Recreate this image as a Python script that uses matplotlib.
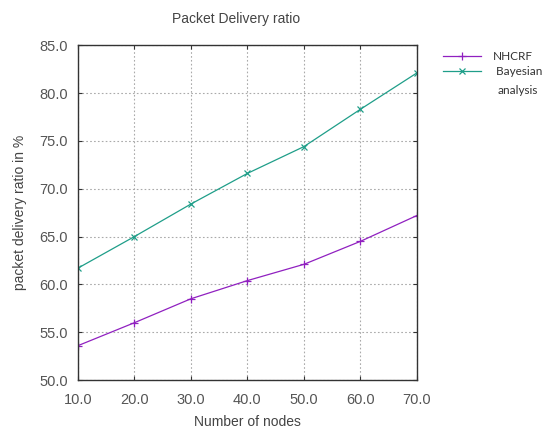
import matplotlib
matplotlib.use("Agg")
import matplotlib.pyplot as plt

nodes = [10, 20, 30, 40, 50, 60, 70]
nhcrf = [53.6, 56.0, 58.5, 60.4, 62.1, 64.5, 67.2]
bayesian = [61.7, 65.0, 68.4, 71.6, 74.4, 78.3, 82.1]
x_ticks = [10, 20, 30, 40, 50, 60, 70]
y_ticks = [50, 55, 60, 65, 70, 75, 80, 85]

plt.rcParams["font.family"] = ["Liberation Sans", "DejaVu Sans"]

fig = plt.figure(figsize=(5.45, 4.3), dpi=100)
ax = fig.add_axes([0.143, 0.116, 0.622, 0.779])

ax.plot(nodes, nhcrf, color="#9020c0", lw=0.9, marker="+", ms=6, mew=0.9, label="NHCRF")
ax.plot(nodes, bayesian, color="#1f9e89", lw=0.9, marker="x", ms=5, mew=0.9, label=" Bayesian")

ax.set_xlim(10, 70)
ax.set_ylim(50, 85)
ax.set_xticks(x_ticks)
ax.set_yticks(y_ticks)
ax.set_xticklabels([f"{v:.1f}" for v in x_ticks])
ax.set_yticklabels([f"{v:.1f}" for v in y_ticks])
ax.tick_params(direction="in", length=3, width=0.8, color="#333333", labelsize=10.5,
               labelcolor="#555555", top=True, right=True)
ax.tick_params(axis="x", pad=9)
ax.tick_params(axis="y", pad=7)
ax.grid(True, color="#aaaaaa", linestyle=(0, (1.5, 2)), lw=0.8)
for s in ax.spines.values():
    s.set_color("#333333")
    s.set_linewidth(1.0)

ax.set_xlabel("Number of nodes", fontsize=10, color="#444444", labelpad=6)
ax.set_ylabel("packet delivery ratio in %", fontsize=10, color="#444444", labelpad=9)
fig.text(0.433, 0.955, "Packet Delivery ratio", ha="center", va="center", fontsize=10, color="#444444")

leg = ax.legend(loc="upper left", bbox_to_anchor=(0.813, 0.881), bbox_transform=fig.transFigure,
                frameon=False, borderpad=0, borderaxespad=0, handlelength=3.2,
                handletextpad=1.0, labelspacing=0.35,
                prop={"family": "Lato", "size": 8.5})
for t in leg.get_texts():
    t.set_color("#333333")
fig.text(498 / 545, 1 - 90 / 430, "analysis", ha="left", va="center",
         family="Lato", fontsize=8.5, color="#333333")

fig.savefig("out.png", dpi=100)
